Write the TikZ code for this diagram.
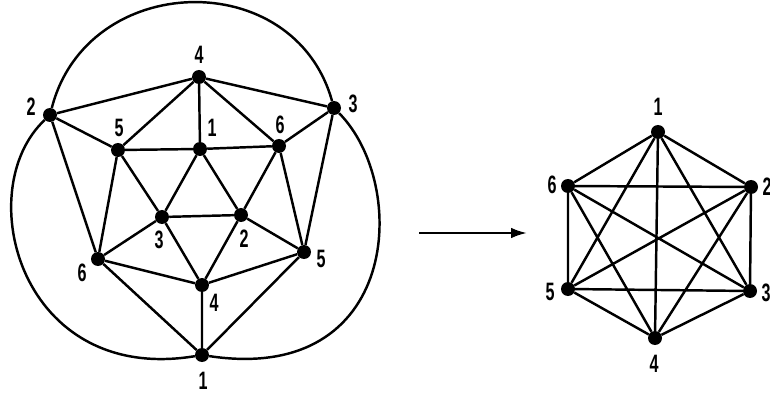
\documentclass[tikz,border=0pt]{standalone}
\usepackage{fontspec}
\newfontfamily\lblfont{Liberation Sans Bold}[FakeStretch=0.64]
\usetikzlibrary{arrows.meta}

\begin{document}
\begin{tikzpicture}[x=0.03cm,y=-0.03cm,
  vtx/.style={circle,fill=black,inner sep=0pt,minimum size=0.42cm},
  lbl/.style={inner sep=0pt,font=\lblfont\fontsize{21.5}{24}\selectfont},
  edg/.style={line width=2.1pt},
  ar/.style={-{Latex[length=4.8mm,width=3.2mm]},line width=2pt}]
\useasboundingbox (0,0) rectangle (770,396);
% icosahedron vertices
\node[vtx] (a4) at (199,77) {};
\node[vtx] (a2) at (50,115) {};
\node[vtx] (a3) at (334,108) {};
\node[vtx] (b5) at (118,150) {};
\node[vtx] (b1) at (200,149) {};
\node[vtx] (b6) at (279,146) {};
\node[vtx] (c3) at (162,217) {};
\node[vtx] (c2) at (241,215) {};
\node[vtx] (d6) at (98,259) {};
\node[vtx] (d5) at (304,252) {};
\node[vtx] (d4) at (202,285) {};
\node[vtx] (e1) at (202,355) {};
% its labels
\node[lbl] (la4) at (199,55) {4};
\node[lbl] (la2) at (31,107) {2};
\node[lbl] (la3) at (353,104) {3};
\node[lbl] (lb5) at (119,128) {5};
\node[lbl] (lb1) at (212,128) {1};
\node[lbl] (lb6) at (280,125) {6};
\node[lbl] (lc3) at (159,240) {3};
\node[lbl] (lc2) at (244,239) {2};
\node[lbl] (ld6) at (82,273) {6};
\node[lbl] (ld5) at (321,259) {5};
\node[lbl] (ld4) at (214,303) {4};
\node[lbl] (le1) at (203,381) {1};
% straight edges
\draw[edg] (a4) -- (a2) (a4) -- (a3) (a4) -- (b5) (a4) -- (b1) (a4) -- (b6)
  (a2) -- (b5) (a2) -- (d6) (a3) -- (b6) (a3) -- (d5)
  (b5) -- (b1) (b5) -- (c3) (b5) -- (d6)
  (b1) -- (b6) (b1) -- (c3) (b1) -- (c2)
  (b6) -- (c2) (b6) -- (d5)
  (c3) -- (c2) (c3) -- (d6) (c3) -- (d4)
  (c2) -- (d5) (c2) -- (d4)
  (d6) -- (d4) (d6) -- (e1) (d5) -- (d4) (d5) -- (e1) (d4) -- (e1);
% outer arcs
\draw[edg] (a2) .. controls (87,-29) and (294,-35) .. (a3);
\draw[edg] (a2) .. controls (-30,190) and (20,385) .. (e1);
\draw[edg] (a3) .. controls (410,185) and (400,385) .. (e1);
% arrow
\coordinate (p) at (419,233);
\coordinate (q) at (527,233);
\draw[ar] (p) -- (q);
% K6 vertices
\node[vtx] (k1) at (658,132) {};
\node[vtx] (k2) at (751,187) {};
\node[vtx] (k3) at (750,291) {};
\node[vtx] (k4) at (655,338) {};
\node[vtx] (k5) at (568,289) {};
\node[vtx] (k6) at (568,186) {};
\node[lbl] (lk1) at (658,107) {1};
\node[lbl] (lk2) at (767,187) {2};
\node[lbl] (lk3) at (766,293) {3};
\node[lbl] (lk4) at (654,364) {4};
\node[lbl] (lk5) at (550,292) {5};
\node[lbl] (lk6) at (552,185) {6};
% K6 edges
\draw[edg] (k1) -- (k2) (k1) -- (k3) (k1) -- (k4) (k1) -- (k5) (k1) -- (k6)
  (k2) -- (k3) (k2) -- (k4) (k2) -- (k5) (k2) -- (k6)
  (k3) -- (k4) (k3) -- (k5) (k3) -- (k6)
  (k4) -- (k5) (k4) -- (k6) (k5) -- (k6);
\end{tikzpicture}
\end{document}
